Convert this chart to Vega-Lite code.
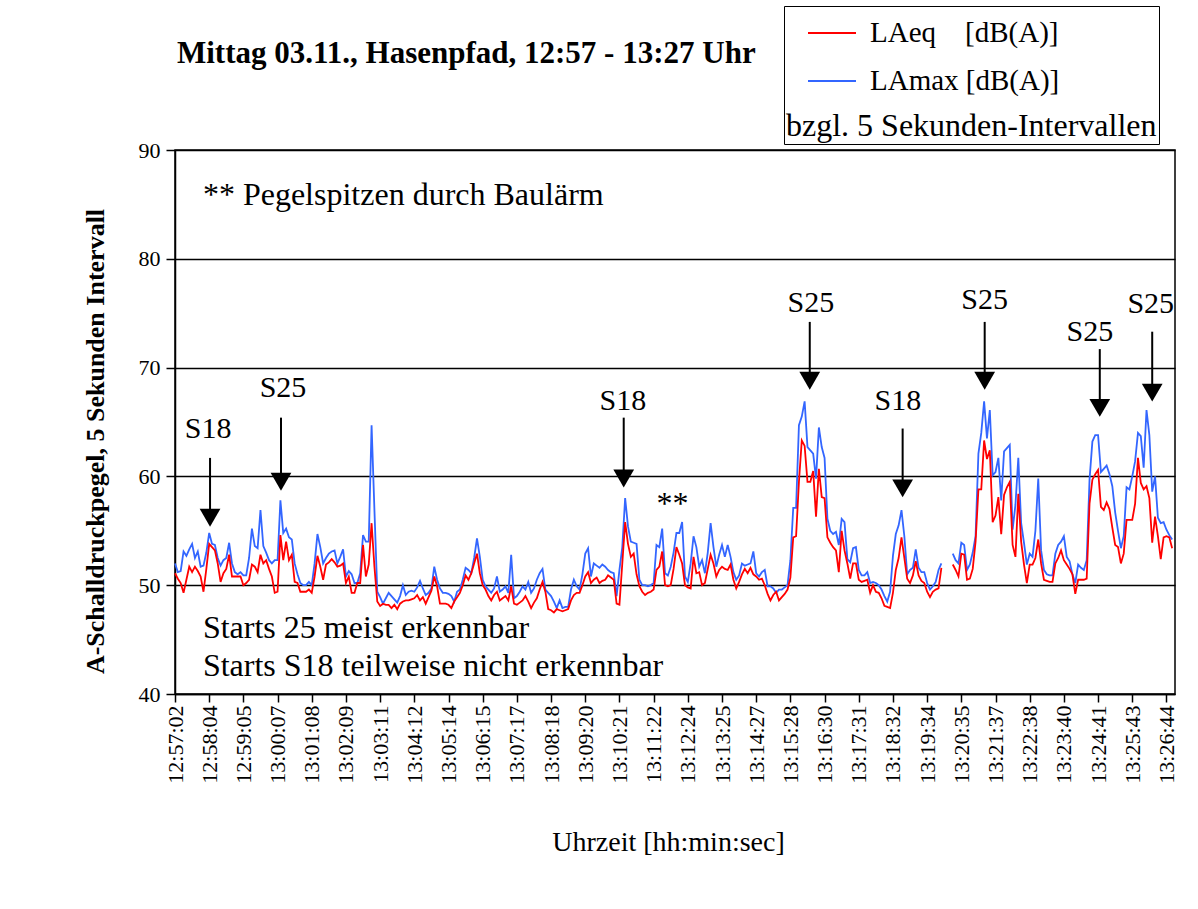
{
"$schema": "https://vega.github.io/schema/vega-lite/v6.json",
"width": 1000,
"height": 544,
"autosize": "none",
"padding": {"left": 175, "top": 150, "right": 23, "bottom": 215},
"background": "white",
"title": {"text": "Mittag 03.11., Hasenpfad, 12:57 - 13:27 Uhr", "anchor": "start", "frame": "group", "offset": 0, "dy": 64, "font": "Liberation Serif", "fontSize": 31, "fontWeight": "bold", "color": "black", "dx": 2},
"config": {"view": {"stroke": "black", "strokeWidth": 1.5}, "font": "Liberation Serif"},
"datasets": {
"series": [
{"i":0,"LAeq":51.1,"LAmax":52.0},{"i":1,"LAeq":50.6,"LAmax":51.2},{"i":2,"LAeq":50.2,"LAmax":51.3},{"i":3,"LAeq":49.3,"LAmax":53.1},{"i":4,"LAeq":50.5,"LAmax":52.7},{"i":5,"LAeq":51.7,"LAmax":53.3},{"i":6,"LAeq":51.2,"LAmax":53.8},{"i":7,"LAeq":51.7,"LAmax":52.5},{"i":8,"LAeq":51.3,"LAmax":53.1},{"i":9,"LAeq":50.8,"LAmax":51.7},
{"i":10,"LAeq":49.4,"LAmax":51.8},{"i":11,"LAeq":51.5,"LAmax":53.0},{"i":12,"LAeq":53.8,"LAmax":54.8},{"i":13,"LAeq":53.5,"LAmax":53.8},{"i":14,"LAeq":53.2,"LAmax":53.7},{"i":15,"LAeq":52.0,"LAmax":52.5},{"i":16,"LAeq":50.3,"LAmax":51.8},{"i":17,"LAeq":51.1,"LAmax":52.3},{"i":18,"LAeq":51.5,"LAmax":52.5},{"i":19,"LAeq":52.8,"LAmax":53.9},
{"i":20,"LAeq":50.8,"LAmax":52.0},{"i":21,"LAeq":50.8,"LAmax":51.2},{"i":22,"LAeq":50.8,"LAmax":51.0},{"i":23,"LAeq":50.8,"LAmax":51.2},{"i":24,"LAeq":50.0,"LAmax":50.9},{"i":25,"LAeq":50.2,"LAmax":50.9},{"i":26,"LAeq":50.5,"LAmax":52.5},{"i":27,"LAeq":51.9,"LAmax":55.2},{"i":28,"LAeq":51.7,"LAmax":53.6},{"i":29,"LAeq":51.2,"LAmax":53.4},
{"i":30,"LAeq":52.8,"LAmax":56.9},{"i":31,"LAeq":52.0,"LAmax":53.6},{"i":32,"LAeq":52.3,"LAmax":53.0},{"i":33,"LAeq":51.5,"LAmax":52.3},{"i":34,"LAeq":50.8,"LAmax":52.0},{"i":35,"LAeq":49.3,"LAmax":52.3},{"i":36,"LAeq":49.4,"LAmax":52.3},{"i":37,"LAeq":54.6,"LAmax":57.8},{"i":38,"LAeq":52.3,"LAmax":54.8},{"i":39,"LAeq":54.0,"LAmax":55.2},
{"i":40,"LAeq":52.3,"LAmax":54.4},{"i":41,"LAeq":52.8,"LAmax":54.2},{"i":42,"LAeq":50.3,"LAmax":52.0},{"i":43,"LAeq":50.2,"LAmax":51.0},{"i":44,"LAeq":49.4,"LAmax":50.2},{"i":45,"LAeq":49.4,"LAmax":50.0},{"i":46,"LAeq":49.4,"LAmax":50.0},{"i":47,"LAeq":49.6,"LAmax":50.3},{"i":48,"LAeq":49.3,"LAmax":50.0},{"i":49,"LAeq":50.8,"LAmax":52.0},
{"i":50,"LAeq":52.7,"LAmax":54.7},{"i":51,"LAeq":51.7,"LAmax":53.5},{"i":52,"LAeq":50.5,"LAmax":52.0},{"i":53,"LAeq":51.9,"LAmax":52.5},{"i":54,"LAeq":52.1,"LAmax":52.9},{"i":55,"LAeq":52.4,"LAmax":53.1},{"i":56,"LAeq":52.1,"LAmax":53.2},{"i":57,"LAeq":51.7,"LAmax":52.0},{"i":58,"LAeq":51.8,"LAmax":52.6},{"i":59,"LAeq":52.0,"LAmax":53.3},
{"i":60,"LAeq":50.2,"LAmax":50.8},{"i":61,"LAeq":50.8,"LAmax":51.3},{"i":62,"LAeq":49.3,"LAmax":51.0},{"i":63,"LAeq":49.3,"LAmax":50.2},{"i":64,"LAeq":50.2,"LAmax":50.2},{"i":65,"LAeq":50.2,"LAmax":51.1},{"i":66,"LAeq":53.7,"LAmax":54.6},{"i":67,"LAeq":50.8,"LAmax":54.0},{"i":68,"LAeq":51.9,"LAmax":54.0},{"i":69,"LAeq":55.7,"LAmax":64.7},
{"i":70,"LAeq":51.7,"LAmax":56.9},{"i":71,"LAeq":48.5,"LAmax":49.4},{"i":72,"LAeq":48.1,"LAmax":48.9},{"i":73,"LAeq":48.3,"LAmax":48.3},{"i":74,"LAeq":48.2,"LAmax":48.8},{"i":75,"LAeq":48.2,"LAmax":49.3},{"i":76,"LAeq":47.9,"LAmax":49.0},{"i":77,"LAeq":48.2,"LAmax":48.7},{"i":78,"LAeq":47.8,"LAmax":48.4},{"i":79,"LAeq":48.3,"LAmax":49.0},
{"i":80,"LAeq":48.5,"LAmax":50.0},{"i":81,"LAeq":48.6,"LAmax":49.1},{"i":82,"LAeq":48.6,"LAmax":49.4},{"i":83,"LAeq":48.7,"LAmax":49.5},{"i":84,"LAeq":48.8,"LAmax":49.4},{"i":85,"LAeq":49.1,"LAmax":49.8},{"i":86,"LAeq":48.6,"LAmax":50.4},{"i":87,"LAeq":48.9,"LAmax":49.7},{"i":88,"LAeq":48.3,"LAmax":49.1},{"i":89,"LAeq":48.9,"LAmax":49.3},
{"i":90,"LAeq":49.5,"LAmax":49.7},{"i":91,"LAeq":50.8,"LAmax":51.7},{"i":92,"LAeq":49.9,"LAmax":50.5},{"i":93,"LAeq":48.3,"LAmax":49.7},{"i":94,"LAeq":48.3,"LAmax":49.3},{"i":95,"LAeq":48.3,"LAmax":49.3},{"i":96,"LAeq":48.2,"LAmax":49.2},{"i":97,"LAeq":47.9,"LAmax":49.0},{"i":98,"LAeq":48.5,"LAmax":48.5},{"i":99,"LAeq":48.9,"LAmax":49.4},
{"i":100,"LAeq":49.3,"LAmax":49.6},{"i":101,"LAeq":50.0,"LAmax":50.5},{"i":102,"LAeq":50.9,"LAmax":51.6},{"i":103,"LAeq":50.5,"LAmax":51.4},{"i":104,"LAeq":51.1,"LAmax":51.1},{"i":105,"LAeq":52.0,"LAmax":52.5},{"i":106,"LAeq":52.9,"LAmax":54.3},{"i":107,"LAeq":51.1,"LAmax":52.6},{"i":108,"LAeq":50.0,"LAmax":50.5},{"i":109,"LAeq":49.6,"LAmax":49.9},
{"i":110,"LAeq":49.0,"LAmax":49.6},{"i":111,"LAeq":48.6,"LAmax":49.3},{"i":112,"LAeq":49.1,"LAmax":49.7},{"i":113,"LAeq":49.4,"LAmax":50.8},{"i":114,"LAeq":48.6,"LAmax":49.4},{"i":115,"LAeq":48.8,"LAmax":49.6},{"i":116,"LAeq":49.0,"LAmax":49.9},{"i":117,"LAeq":48.6,"LAmax":49.3},{"i":118,"LAeq":49.9,"LAmax":52.8},{"i":119,"LAeq":48.3,"LAmax":48.8},
{"i":120,"LAeq":48.2,"LAmax":49.0},{"i":121,"LAeq":48.4,"LAmax":49.4},{"i":122,"LAeq":48.6,"LAmax":49.9},{"i":123,"LAeq":49.0,"LAmax":49.6},{"i":124,"LAeq":48.5,"LAmax":50.3},{"i":125,"LAeq":47.9,"LAmax":49.3},{"i":126,"LAeq":48.4,"LAmax":49.7},{"i":127,"LAeq":48.8,"LAmax":50.5},{"i":128,"LAeq":49.6,"LAmax":51.1},{"i":129,"LAeq":50.3,"LAmax":51.5},
{"i":130,"LAeq":49.4,"LAmax":49.6},{"i":131,"LAeq":47.8,"LAmax":49.3},{"i":132,"LAeq":47.7,"LAmax":49.0},{"i":133,"LAeq":47.5,"LAmax":48.5},{"i":134,"LAeq":47.8,"LAmax":47.9},{"i":135,"LAeq":47.7,"LAmax":48.6},{"i":136,"LAeq":47.6,"LAmax":47.9},{"i":137,"LAeq":47.7,"LAmax":48.0},{"i":138,"LAeq":47.8,"LAmax":48.0},{"i":139,"LAeq":48.6,"LAmax":49.6},
{"i":140,"LAeq":49.1,"LAmax":50.5},{"i":141,"LAeq":49.3,"LAmax":49.9},{"i":142,"LAeq":49.3,"LAmax":49.6},{"i":143,"LAeq":50.0,"LAmax":51.0},{"i":144,"LAeq":50.8,"LAmax":52.9},{"i":145,"LAeq":51.2,"LAmax":53.4},{"i":146,"LAeq":50.2,"LAmax":50.8},{"i":147,"LAeq":50.5,"LAmax":52.0},{"i":148,"LAeq":50.7,"LAmax":51.8},{"i":149,"LAeq":50.2,"LAmax":51.6},
{"i":150,"LAeq":50.4,"LAmax":51.9},{"i":151,"LAeq":50.5,"LAmax":51.7},{"i":152,"LAeq":50.9,"LAmax":51.4},{"i":153,"LAeq":50.7,"LAmax":51.2},{"i":154,"LAeq":50.5,"LAmax":51.1},{"i":155,"LAeq":48.3,"LAmax":49.0},{"i":156,"LAeq":48.2,"LAmax":51.4},{"i":157,"LAeq":52.0,"LAmax":53.5},{"i":158,"LAeq":55.8,"LAmax":58.0},{"i":159,"LAeq":53.8,"LAmax":55.4},
{"i":160,"LAeq":52.6,"LAmax":54.0},{"i":161,"LAeq":52.9,"LAmax":53.9},{"i":162,"LAeq":51.0,"LAmax":53.8},{"i":163,"LAeq":49.9,"LAmax":50.5},{"i":164,"LAeq":49.4,"LAmax":50.0},{"i":165,"LAeq":49.1,"LAmax":50.0},{"i":166,"LAeq":49.3,"LAmax":49.9},{"i":167,"LAeq":49.4,"LAmax":50.0},{"i":168,"LAeq":49.6,"LAmax":50.2},{"i":169,"LAeq":51.4,"LAmax":53.7},
{"i":170,"LAeq":51.7,"LAmax":53.5},{"i":171,"LAeq":53.1,"LAmax":55.2},{"i":172,"LAeq":50.0,"LAmax":51.1},{"i":173,"LAeq":49.9,"LAmax":50.9},{"i":174,"LAeq":50.0,"LAmax":51.7},{"i":175,"LAeq":51.5,"LAmax":53.0},{"i":176,"LAeq":53.5,"LAmax":54.8},{"i":177,"LAeq":52.8,"LAmax":54.8},{"i":178,"LAeq":52.0,"LAmax":55.8},{"i":179,"LAeq":50.0,"LAmax":50.8},
{"i":180,"LAeq":49.8,"LAmax":50.3},{"i":181,"LAeq":49.7,"LAmax":52.0},{"i":182,"LAeq":52.6,"LAmax":54.5},{"i":183,"LAeq":51.1,"LAmax":53.5},{"i":184,"LAeq":51.2,"LAmax":51.7},{"i":185,"LAeq":50.0,"LAmax":52.3},{"i":186,"LAeq":50.2,"LAmax":51.1},{"i":187,"LAeq":51.5,"LAmax":53.0},{"i":188,"LAeq":52.8,"LAmax":55.7},{"i":189,"LAeq":52.0,"LAmax":53.5},
{"i":190,"LAeq":50.8,"LAmax":51.7},{"i":191,"LAeq":51.4,"LAmax":52.8},{"i":192,"LAeq":51.7,"LAmax":53.7},{"i":193,"LAeq":51.5,"LAmax":52.6},{"i":194,"LAeq":51.4,"LAmax":53.7},{"i":195,"LAeq":51.9,"LAmax":52.6},{"i":196,"LAeq":50.5,"LAmax":51.2},{"i":197,"LAeq":49.7,"LAmax":50.5},{"i":198,"LAeq":50.3,"LAmax":50.9},{"i":199,"LAeq":51.0,"LAmax":52.0},
{"i":200,"LAeq":51.5,"LAmax":51.8},{"i":201,"LAeq":51.1,"LAmax":51.9},{"i":202,"LAeq":51.6,"LAmax":52.0},{"i":203,"LAeq":51.0,"LAmax":53.1},{"i":204,"LAeq":50.8,"LAmax":51.1},{"i":205,"LAeq":50.5,"LAmax":50.8},{"i":206,"LAeq":50.6,"LAmax":51.2},{"i":207,"LAeq":50.0,"LAmax":51.4},{"i":208,"LAeq":49.2,"LAmax":49.9},{"i":209,"LAeq":48.6,"LAmax":49.9},
{"i":210,"LAeq":49.1,"LAmax":49.7},{"i":211,"LAeq":49.4,"LAmax":49.3},{"i":212,"LAeq":48.6,"LAmax":49.6},{"i":213,"LAeq":48.9,"LAmax":49.6},{"i":214,"LAeq":49.2,"LAmax":49.8},{"i":215,"LAeq":49.6,"LAmax":50.0},{"i":216,"LAeq":50.7,"LAmax":52.3},{"i":217,"LAeq":54.4,"LAmax":57.1},{"i":218,"LAeq":54.5,"LAmax":57.1},{"i":219,"LAeq":59.5,"LAmax":64.7},
{"i":220,"LAeq":63.3,"LAmax":65.5},{"i":221,"LAeq":62.8,"LAmax":66.9},{"i":222,"LAeq":59.5,"LAmax":62.7},{"i":223,"LAeq":59.5,"LAmax":62.4},{"i":224,"LAeq":60.5,"LAmax":62.1},{"i":225,"LAeq":56.3,"LAmax":59.8},{"i":226,"LAeq":60.7,"LAmax":64.5},{"i":227,"LAeq":58.1,"LAmax":62.7},{"i":228,"LAeq":58.0,"LAmax":61.7},{"i":229,"LAeq":54.4,"LAmax":56.1},
{"i":230,"LAeq":53.9,"LAmax":55.0},{"i":231,"LAeq":53.5,"LAmax":54.7},{"i":232,"LAeq":53.2,"LAmax":54.9},{"i":233,"LAeq":51.2,"LAmax":53.7},{"i":234,"LAeq":55.0,"LAmax":56.1},{"i":235,"LAeq":53.2,"LAmax":55.8},{"i":236,"LAeq":52.0,"LAmax":52.4},{"i":237,"LAeq":50.6,"LAmax":52.1},{"i":238,"LAeq":52.0,"LAmax":53.4},{"i":239,"LAeq":52.0,"LAmax":53.5},
{"i":240,"LAeq":50.5,"LAmax":51.4},{"i":241,"LAeq":50.3,"LAmax":50.9},{"i":242,"LAeq":50.4,"LAmax":50.9},{"i":243,"LAeq":50.5,"LAmax":51.2},{"i":244,"LAeq":49.3,"LAmax":50.2},{"i":245,"LAeq":50.0,"LAmax":50.3},{"i":246,"LAeq":49.4,"LAmax":50.2},{"i":247,"LAeq":49.3,"LAmax":50.0},{"i":248,"LAeq":48.8,"LAmax":49.6},{"i":249,"LAeq":48.1,"LAmax":49.0},
{"i":250,"LAeq":48.0,"LAmax":48.5},{"i":251,"LAeq":47.9,"LAmax":49.4},{"i":252,"LAeq":49.3,"LAmax":52.7},{"i":253,"LAeq":51.4,"LAmax":54.7},{"i":254,"LAeq":52.5,"LAmax":55.5},{"i":255,"LAeq":54.4,"LAmax":56.9},{"i":256,"LAeq":52.5,"LAmax":54.5},{"i":257,"LAeq":50.6,"LAmax":51.0},{"i":258,"LAeq":50.2,"LAmax":51.4},{"i":259,"LAeq":50.9,"LAmax":51.6},
{"i":260,"LAeq":52.2,"LAmax":53.3},{"i":261,"LAeq":50.9,"LAmax":51.6},{"i":262,"LAeq":50.4,"LAmax":51.2},{"i":263,"LAeq":50.2,"LAmax":51.2},{"i":264,"LAeq":49.4,"LAmax":50.2},{"i":265,"LAeq":48.9,"LAmax":49.6},{"i":266,"LAeq":49.4,"LAmax":49.9},{"i":267,"LAeq":49.6,"LAmax":50.3},{"i":268,"LAeq":49.7,"LAmax":51.4},{"i":269,"LAeq":51.6,"LAmax":52.0},
{"i":270,"LAeq":null,"LAmax":null},{"i":271,"LAeq":null,"LAmax":null},{"i":272,"LAeq":null,"LAmax":null},{"i":273,"LAeq":51.9,"LAmax":52.9},{"i":274,"LAeq":51.4,"LAmax":52.3},{"i":275,"LAeq":50.8,"LAmax":52.0},{"i":276,"LAeq":52.9,"LAmax":53.9},{"i":277,"LAeq":52.8,"LAmax":53.7},{"i":278,"LAeq":50.5,"LAmax":51.4},{"i":279,"LAeq":50.6,"LAmax":51.9},
{"i":280,"LAeq":51.5,"LAmax":53.0},{"i":281,"LAeq":54.0,"LAmax":54.5},{"i":282,"LAeq":58.8,"LAmax":62.1},{"i":283,"LAeq":58.8,"LAmax":64.0},{"i":284,"LAeq":63.3,"LAmax":66.9},{"i":285,"LAeq":61.6,"LAmax":63.5},{"i":286,"LAeq":62.4,"LAmax":66.1},{"i":287,"LAeq":55.8,"LAmax":60.1},{"i":288,"LAeq":56.4,"LAmax":60.4},{"i":289,"LAeq":58.1,"LAmax":61.7},
{"i":290,"LAeq":54.7,"LAmax":57.8},{"i":291,"LAeq":58.3,"LAmax":62.3},{"i":292,"LAeq":59.0,"LAmax":62.6},{"i":293,"LAeq":59.5,"LAmax":62.9},{"i":294,"LAeq":53.7,"LAmax":55.1},{"i":295,"LAeq":52.6,"LAmax":57.4},{"i":296,"LAeq":58.4,"LAmax":61.7},{"i":297,"LAeq":54.0,"LAmax":55.7},{"i":298,"LAeq":51.9,"LAmax":53.9},{"i":299,"LAeq":50.2,"LAmax":51.9},
{"i":300,"LAeq":51.9,"LAmax":52.9},{"i":301,"LAeq":51.9,"LAmax":52.6},{"i":302,"LAeq":52.5,"LAmax":55.0},{"i":303,"LAeq":54.2,"LAmax":59.8},{"i":304,"LAeq":52.0,"LAmax":53.2},{"i":305,"LAeq":50.5,"LAmax":51.4},{"i":306,"LAeq":50.4,"LAmax":51.0},{"i":307,"LAeq":50.3,"LAmax":50.9},{"i":308,"LAeq":50.3,"LAmax":50.9},{"i":309,"LAeq":52.0,"LAmax":52.9},
{"i":310,"LAeq":52.5,"LAmax":53.7},{"i":311,"LAeq":53.2,"LAmax":54.0},{"i":312,"LAeq":52.3,"LAmax":54.5},{"i":313,"LAeq":51.9,"LAmax":52.6},{"i":314,"LAeq":51.5,"LAmax":52.2},{"i":315,"LAeq":51.0,"LAmax":51.0},{"i":316,"LAeq":49.2,"LAmax":50.2},{"i":317,"LAeq":50.5,"LAmax":51.9},{"i":318,"LAeq":50.5,"LAmax":51.6},{"i":319,"LAeq":50.5,"LAmax":51.4},
{"i":320,"LAeq":50.6,"LAmax":52.3},{"i":321,"LAeq":57.5,"LAmax":59.7},{"i":322,"LAeq":59.7,"LAmax":63.2},{"i":323,"LAeq":60.2,"LAmax":63.8},{"i":324,"LAeq":60.6,"LAmax":63.8},{"i":325,"LAeq":57.2,"LAmax":60.4},{"i":326,"LAeq":56.9,"LAmax":60.7},{"i":327,"LAeq":57.6,"LAmax":61.0},{"i":328,"LAeq":57.0,"LAmax":60.2},{"i":329,"LAeq":55.3,"LAmax":59.1},
{"i":330,"LAeq":53.7,"LAmax":56.7},{"i":331,"LAeq":53.5,"LAmax":55.0},{"i":332,"LAeq":52.0,"LAmax":53.4},{"i":333,"LAeq":52.9,"LAmax":54.5},{"i":334,"LAeq":56.0,"LAmax":59.0},{"i":335,"LAeq":56.0,"LAmax":58.8},{"i":336,"LAeq":56.0,"LAmax":60.0},{"i":337,"LAeq":57.5,"LAmax":61.4},{"i":338,"LAeq":61.7,"LAmax":64.0},{"i":339,"LAeq":59.4,"LAmax":63.7},
{"i":340,"LAeq":58.8,"LAmax":60.8},{"i":341,"LAeq":59.1,"LAmax":66.1},{"i":342,"LAeq":58.0,"LAmax":63.8},{"i":343,"LAeq":53.9,"LAmax":58.6},{"i":344,"LAeq":56.3,"LAmax":60.0},{"i":345,"LAeq":54.5,"LAmax":56.2},{"i":346,"LAeq":52.4,"LAmax":55.7},{"i":347,"LAeq":54.4,"LAmax":55.8},{"i":348,"LAeq":54.5,"LAmax":55.1},{"i":349,"LAeq":54.4,"LAmax":54.6},
{"i":350,"LAeq":53.4,"LAmax":54.2}
],
"arrows": [
{"i":12.3,"top":61.7,"head":56.2},
{"i":37.2,"top":65.4,"head":59.5},
{"i":157.5,"top":65.4,"head":59.8},
{"i":222.8,"top":74.2,"head":68.8},
{"i":255.4,"top":64.4,"head":58.9},
{"i":284.2,"top":74.2,"head":68.8},
{"i":324.6,"top":71.7,"head":66.3},
{"i":343.0,"top":73.3,"head":67.7}
],
"labels": [
{"i":11.6,"v":64.4,"t":"S18"},
{"i":37.9,"v":68.1,"t":"S25"},
{"i":157.2,"v":66.9,"t":"S18"},
{"i":223.2,"v":75.9,"t":"S25"},
{"i":253.7,"v":66.9,"t":"S18"},
{"i":284.2,"v":76.2,"t":"S25"},
{"i":321.1,"v":73.3,"t":"S25"},
{"i":342.5,"v":75.8,"t":"S25"}
],
"notes": [
{"i":9.8,"v":85.9,"t":"** Pegelspitzen durch Baulärm"},
{"i":9.8,"v":46.1,"t":"Starts 25 meist erkennbar"},
{"i":9.8,"v":42.6,"t":"Starts S18 teilweise nicht erkennbar"},
{"i":169,"v":57.5,"t":"**"}
]
},
"layer": [
{
"data": {"name": "series"},
"transform": [{"fold": ["LAmax", "LAeq"], "as": ["s", "v"]}],
"mark": {"type": "line", "strokeWidth": 1.8, "invalid": "break-paths-show-domains"},
"encoding": {
"x": {"field": "i", "type": "quantitative", "scale": {"domain": [0, 351], "nice": false, "zero": false},
"axis": {"values": [0,12,24,36,48,60,72,84,96,108,120,132,144,156,168,180,192,204,216,228,240,252,264,276,288,300,312,324,336,348],
"tickCount": 100,
"labelExpr": "['12:57:02','12:58:04','12:59:05','13:00:07','13:01:08','13:02:09','13:03:11','13:04:12','13:05:14','13:06:15','13:07:17','13:08:18','13:09:20','13:10:21','13:11:22','13:12:24','13:13:25','13:14:27','13:15:28','13:16:30','13:17:31','13:18:32','13:19:34','13:20:35','13:21:37','13:22:38','13:23:40','13:24:41','13:25:43','13:26:44'][round(datum.value/12)]",
"labelAngle": 270, "labelFont": "Liberation Serif", "labelFontSize": 22, "labelColor": "black", "labelPadding": 3, "labelOverlap": false, "labelFlush": false, "labelBound": false,
"tickSize": 8, "tickColor": "black", "tickWidth": 1.5, "domainColor": "black", "domainWidth": 1.5, "grid": false,
"title": "Uhrzeit [hh:min:sec]", "titleFont": "Liberation Serif", "titleFontSize": 28, "titleFontWeight": "normal", "titleColor": "black", "titlePadding": 45, "titleX": 493}},
"y": {"field": "v", "type": "quantitative", "scale": {"domain": [40, 90], "nice": false, "zero": false},
"axis": {"values": [40,50,60,70,80,90], "labelFont": "Liberation Serif", "labelFontSize": 22, "labelColor": "black", "labelPadding": 6,
"tickSize": 9, "tickColor": "black", "tickWidth": 1.5, "domainColor": "black", "domainWidth": 1.5,
"grid": true, "gridColor": "black", "gridWidth": 1.5, "gridOpacity": 1,
"title": "A-Schalldruckpegel, 5 Sekunden Intervall", "titleFont": "Liberation Serif", "titleFontSize": 26, "titleFontWeight": "bold", "titleColor": "black", "titlePadding": 30, "titleY": 291}},
"color": {"field": "s", "type": "nominal", "scale": {"domain": ["LAeq", "LAmax"], "range": ["#ff0000", "#3366ff"]},
"legend": {"orient": "none", "legendX": 609, "legendY": -144, "title": "bzgl. 5 Sekunden-Intervallen", "titleOrient": "bottom", "titleAnchor": "start",
"titleFont": "Liberation Serif", "titleFontSize": 32, "titleFontWeight": "normal", "titleColor": "black", "titlePadding": 15, "titleLimit": 600,
"labelFont": "Liberation Serif", "labelFontSize": 29, "labelColor": "black", "labelLimit": 500,
"labelExpr": "datum.label == 'LAeq' ? 'LAeq\u00a0\u00a0\u00a0\u00a0[dB(A)]' : 'LAmax [dB(A)]'",
"symbolType": "stroke", "symbolSize": 2304, "symbolStrokeWidth": 2, "symbolOffset": 21, "labelOffset": 13, "rowPadding": 8,
"padding": 2, "strokeColor": "black", "fillColor": "white"}}
}
},
{
"data": {"name": "arrows"},
"mark": {"type": "rule", "strokeWidth": 2, "color": "black"},
"encoding": {"x": {"field": "i", "type": "quantitative"}, "y": {"field": "top", "type": "quantitative"}, "y2": {"field": "head"}}
},
{
"data": {"name": "arrows"},
"mark": {"type": "point", "shape": "triangle-down", "filled": true, "size": 430, "color": "black", "opacity": 1},
"encoding": {"x": {"field": "i", "type": "quantitative"}, "y": {"field": "head", "type": "quantitative"}}
},
{
"data": {"name": "labels"},
"mark": {"type": "text", "font": "Liberation Serif", "fontSize": 30, "align": "center", "baseline": "middle", "color": "black"},
"encoding": {"x": {"field": "i", "type": "quantitative"}, "y": {"field": "v", "type": "quantitative"}, "text": {"field": "t"}}
},
{
"data": {"name": "notes"},
"mark": {"type": "text", "font": "Liberation Serif", "fontSize": 32, "align": "left", "baseline": "middle", "color": "black"},
"encoding": {"x": {"field": "i", "type": "quantitative"}, "y": {"field": "v", "type": "quantitative"}, "text": {"field": "t"}}
}
]
}
